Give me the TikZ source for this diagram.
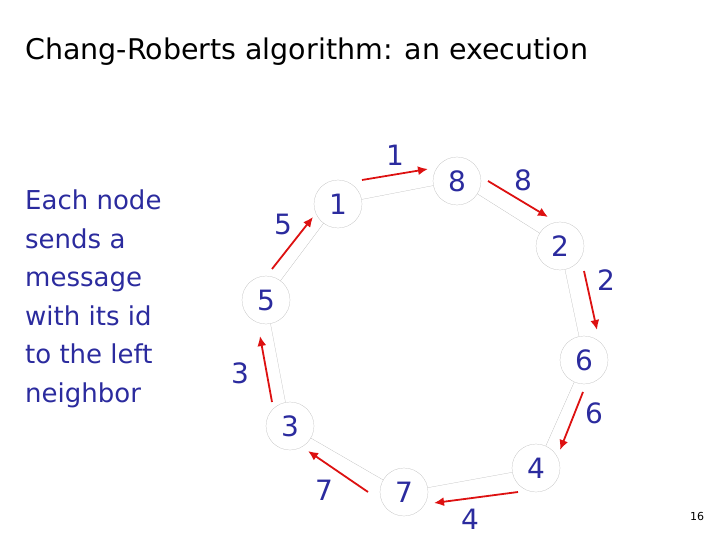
\documentclass[tikz,border=0pt]{standalone}
\usepackage{fontspec}
\setmainfont{DejaVu Sans}
\definecolor{dblue}{HTML}{2B2B9E}
\definecolor{ared}{HTML}{DD1111}
\begin{document}
\begin{tikzpicture}[x=1pt,y=-1pt,
  ring/.style={circle,draw=gray!60,very thin,minimum size=48pt,inner sep=0pt,text=dblue,font=\fontsize{28}{28}\selectfont},
  msg/.style={draw=ared,line width=1.8pt,-{Latex[length=10pt,width=9pt]}},
  lab/.style={text=dblue,font=\fontsize{28}{28}\selectfont},
  link/.style={draw=gray!60,very thin}]
\usetikzlibrary{arrows.meta}
\useasboundingbox (0,0) rectangle (720,540);
\node[anchor=west,inner sep=0pt,font=\fontsize{28.5}{28.5}\selectfont] (title) at (25,52) {Chang-Roberts algorithm: an execution};
\node[anchor=north west,inner sep=0pt,align=left,text=dblue,font=\fontsize{26}{38.5}\selectfont] (txt) at (25,190)
 {Each node\\sends a\\message\\with its id\\to the left\\neighbor};
\node[font=\fontsize{11}{11}\selectfont\rmfamily] (pg) at (697,516) {16};
\node[ring] (n1) at (338,204) {1};
\node[ring] (n8) at (457,181) {8};
\node[ring] (n2) at (560,246) {2};
\node[ring] (n6) at (584,360) {6};
\node[ring] (n4) at (536,468) {4};
\node[ring] (n7) at (404,492) {7};
\node[ring] (n3) at (290,426) {3};
\node[ring] (n5) at (266,300) {5};
\draw[link] (n1)--(n8) (n8)--(n2) (n2)--(n6) (n6)--(n4) (n4)--(n7) (n7)--(n3) (n3)--(n5) (n5)--(n1);
\coordinate (a1) at (362,180); \coordinate (b1) at (428,169);
\coordinate (a8) at (488,181); \coordinate (b8) at (548,217);
\coordinate (a2) at (584,271); \coordinate (b2) at (597,330);
\coordinate (a6) at (583,392); \coordinate (b6) at (560,450);
\coordinate (a4) at (518,492); \coordinate (b4) at (434,503);
\coordinate (a7) at (368,492); \coordinate (b7) at (308,451);
\coordinate (a3) at (272,402); \coordinate (b3) at (260,336);
\coordinate (a5) at (272,269); \coordinate (b5) at (313,217);
\foreach \i in {1,8,2,6,4,7,3,5} {\draw[msg] (a\i)--(b\i);}
\node[lab] (l1) at (395,155) {1};
\node[lab] (l8) at (523,180) {8};
\node[lab] (l2) at (606,280) {2};
\node[lab] (l6) at (594,413) {6};
\node[lab] (l4) at (470,519) {4};
\node[lab] (l7) at (324,490) {7};
\node[lab] (l3) at (240,373) {3};
\node[lab] (l5) at (283,224) {5};
\end{tikzpicture}
\end{document}
